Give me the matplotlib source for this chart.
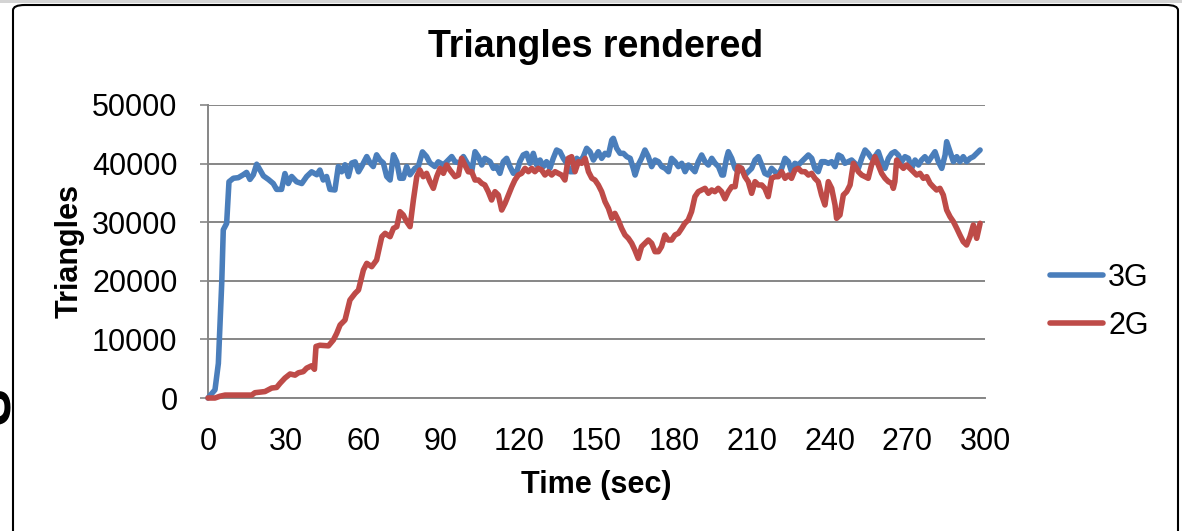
import matplotlib
matplotlib.use("Agg")
import matplotlib.pyplot as plt
from matplotlib.patches import FancyBboxPatch, Rectangle

plt.rcParams['font.family'] = ['Liberation Sans', 'DejaVu Sans']

# 3G series (time in sec, triangles)
t_3g = [0.0, 2.7, 4.0, 5.3, 5.9, 7.2, 8.1, 9.8, 11.7, 13.6, 14.9, 16.2, 17.5, 18.8, 20.1,
        21.4, 23.3, 25.2, 26.5, 28.4, 29.7, 31.0, 32.3, 34.2, 36.2, 38.1, 40.0, 42.0, 43.2,
        44.5, 45.8, 47.1, 49.0, 50.3, 51.6, 52.9, 54.2, 55.5, 56.8, 58.1, 59.3, 61.3, 62.6,
        63.8, 65.1, 66.4, 67.7, 69.0, 70.3, 71.6, 72.9, 74.1, 75.4, 76.7, 78.0, 79.9, 81.2,
        82.8, 84.4, 85.7, 87.6, 88.9, 90.9, 92.1, 94.1, 95.4, 97.3, 98.6, 100.5, 101.8,
        103.1, 104.4, 105.7, 106.9, 108.9, 110.2, 111.4, 112.7, 114.0, 115.3, 116.6, 117.9,
        119.2, 120.4, 121.7, 123.0, 124.3, 125.6, 126.9, 128.2, 129.5, 130.7, 132.0, 133.3,
        134.6, 135.9, 137.2, 138.5, 139.8, 141.1, 142.4, 143.6, 144.9, 146.2, 147.5, 148.8,
        150.7, 152.0, 153.3, 154.6, 155.9, 156.5, 157.8, 159.1, 160.4, 161.7, 163.0, 164.2,
        164.9, 166.1, 167.4, 168.7, 170.0, 171.3, 172.6, 173.9, 175.2, 176.5, 177.8, 179.0,
        180.3, 181.6, 182.9, 184.2, 185.5, 186.8, 188.0, 189.3, 190.6, 191.9, 193.2, 194.5,
        195.8, 197.1, 198.4, 199.0, 200.2, 200.9, 202.2, 203.5, 204.7, 206.0, 207.3, 208.6,
        209.9, 211.2, 212.5, 213.8, 215.0, 216.3, 217.6, 218.9, 220.2, 221.5, 222.8, 224.1,
        225.3, 226.6, 227.9, 229.2, 230.5, 231.8, 233.1, 234.3, 235.6, 236.9, 238.2, 239.5,
        240.8, 242.1, 243.4, 244.6, 245.9, 247.2, 248.5, 249.8, 251.1, 252.4, 253.7, 254.9,
        256.2, 257.5, 258.8, 260.1, 261.4, 262.7, 264.0, 265.2, 266.5, 267.8, 269.1, 270.4,
        271.7, 273.0, 274.3, 275.5, 276.8, 278.1, 279.4, 280.7, 282.0, 283.3, 284.6, 285.2,
        286.5, 287.8, 289.1, 290.3, 291.6, 292.9, 294.2, 295.5, 296.8, 298.1]
v_3g = [0, 1400, 5900, 19600, 28700, 29800, 36900, 37500, 37600, 38100, 38500, 37300, 38100,
        39900, 38900, 37900, 37300, 36600, 35600, 35600, 38300, 36600, 37800, 36900, 36600,
        37800, 38600, 38100, 38900, 37200, 37800, 35600, 35500, 39500, 38600, 39800, 37800,
        40100, 40300, 38600, 39500, 41200, 40100, 39500, 41500, 40600, 40100, 37800, 37200,
        41500, 40300, 37500, 37500, 39500, 38100, 39200, 39500, 42000, 41200, 40100, 39500,
        40300, 39800, 40300, 41200, 40300, 40100, 41200, 39760, 38620, 42030, 41180, 39760,
        40900, 40330, 39190, 39480, 38340, 40330, 40900, 39480, 38340, 38620, 40330, 41470,
        41750, 40050, 41750, 39760, 40610, 39480, 40330, 39190, 40900, 42320, 42030, 40900,
        40050, 38620, 38620, 40900, 40330, 41180, 42610, 42030, 40610, 42030, 40900, 41750,
        41470, 44030, 44310, 42610, 41750, 41750, 41180, 40900, 39190, 38050, 39760, 40900,
        42320, 41180, 39480, 40610, 40330, 39480, 39190, 38620, 40900, 40330, 39480, 40050,
        38620, 39760, 39190, 38620, 40330, 41470, 40330, 39760, 40900, 40050, 39480, 38050,
        38050, 40900, 42030, 40900, 39190, 38620, 39190, 38050, 38620, 39190, 40610, 41180,
        39760, 38340, 38050, 39190, 38620, 38050, 39190, 40900, 40330, 38620, 40050, 39760,
        40330, 40900, 41470, 40900, 39190, 38620, 40330, 40330, 40050, 40330, 39480, 41470,
        41180, 40050, 40330, 40610, 40050, 39190, 40900, 42320, 41750, 40900, 41180, 42030,
        40330, 39190, 40900, 41750, 42030, 41470, 40330, 41180, 40900, 39190, 40610, 39760,
        40610, 41180, 40330, 41180, 42030, 40330, 39190, 41470, 43740, 42030, 40330, 41180,
        40330, 41180, 40330, 40900, 41180, 41750, 42320]

# 2G series
t_2g = [0.0, 2.7, 4.6, 6.6, 11.7, 16.9, 18.1, 22.0, 24.6, 26.5, 27.8, 29.7, 31.7, 33.6,
        34.9, 36.8, 38.1, 40.0, 41.1, 41.7, 43.2, 46.5, 48.4, 49.7, 51.0, 52.9, 54.8, 56.8,
        58.1, 60.0, 61.3, 63.2, 65.1, 67.1, 68.4, 70.3, 71.6, 72.9, 74.1, 75.4, 76.7, 78.0,
        79.3, 80.6, 81.8, 83.1, 84.4, 85.7, 87.0, 88.3, 89.6, 90.9, 92.1, 93.4, 95.4, 96.7,
        97.9, 99.2, 100.5, 101.8, 103.1, 104.4, 105.7, 106.9, 108.2, 109.5, 110.8, 112.1,
        113.4, 114.7, 116.0, 117.3, 118.5, 119.8, 121.1, 122.4, 123.7, 125.0, 126.2, 127.5,
        128.8, 130.1, 131.4, 132.7, 134.0, 135.2, 136.5, 137.8, 139.1, 140.4, 141.7, 143.0,
        144.3, 145.6, 146.9, 148.2, 149.4, 150.7, 152.0, 153.3, 154.6, 155.9, 157.1, 158.4,
        159.7, 161.0, 162.3, 163.6, 164.8, 166.1, 167.4, 168.7, 170.0, 171.3, 172.6, 173.9,
        175.1, 176.4, 177.7, 179.0, 180.3, 181.6, 182.9, 184.1, 185.4, 186.7, 188.0, 189.3,
        190.6, 191.9, 193.2, 194.5, 195.7, 197.0, 198.3, 199.6, 200.9, 202.2, 203.5, 204.7,
        206.0, 207.3, 208.6, 209.9, 211.2, 212.5, 213.8, 215.0, 216.3, 217.6, 218.9, 220.2,
        221.5, 222.8, 224.1, 225.3, 226.6, 227.9, 229.2, 230.5, 231.8, 233.1, 234.3, 235.6,
        236.9, 238.2, 239.5, 240.8, 242.1, 242.7, 244.0, 245.3, 246.6, 247.9, 249.2, 250.4,
        251.1, 252.4, 253.7, 254.9, 256.2, 257.5, 258.8, 260.1, 261.4, 262.7, 264.0, 264.6,
        265.2, 265.9, 267.2, 268.5, 269.7, 271.0, 272.3, 273.6, 274.9, 276.2, 277.5, 278.8,
        280.0, 281.3, 282.6, 283.9, 285.2, 286.5, 287.8, 289.1, 290.3, 291.6, 292.9, 294.2,
        295.5, 296.8, 298.1]
v_2g = [0, 0, 300, 500, 500, 500, 900, 1100, 1700, 1800, 2500, 3400, 4100, 3900, 4300, 4500,
        5100, 5500, 4900, 8800, 9000, 8900, 9900, 11040, 12460, 13310, 16720, 17860, 18430,
        21840, 22980, 22410, 23550, 27530, 28100, 27530, 28960, 29240, 31800, 31230, 30090,
        29240, 33790, 37770, 38910, 37770, 38340, 36920, 35780, 37770, 39190, 38340, 39760,
        38910, 37770, 38050, 40900, 39760, 38600, 38620, 37200, 37200, 36630, 36350, 35210,
        33790, 35210, 34640, 32080, 33220, 34640, 36060, 37200, 38050, 38340, 39190, 38620,
        39190, 38620, 39190, 38910, 38050, 38620, 38050, 38620, 38340, 38050, 37200, 40900,
        41180, 38620, 40330, 40050, 40900, 38620, 37500, 37200, 36350, 35210, 33500, 32370,
        30660, 31510, 30370, 28950, 27820, 27250, 26400, 25260, 23830, 25830, 26400, 26960,
        26400, 24970, 24970, 25830, 27820, 26960, 26960, 27820, 28100, 28950, 29810, 30370,
        31800, 34360, 35210, 35500, 35780, 34930, 35500, 35210, 35780, 35210, 34000, 35210,
        36060, 36060, 39480, 39190, 37770, 36920, 34930, 36920, 36350, 36350, 35780, 34360,
        37490, 37770, 37770, 38620, 37490, 38050, 37490, 38910, 39190, 38620, 38620, 38050,
        38340, 37490, 36920, 34640, 32940, 36920, 35780, 32940, 30660, 31230, 34640, 35210,
        36350, 40050, 39190, 38620, 38050, 37770, 37490, 39760, 41180, 39760, 38340, 37490,
        36920, 36630, 35780, 36920, 40610, 39760, 39190, 39760, 39190, 38620, 38050, 38340,
        37490, 37770, 36630, 36060, 35500, 35780, 34640, 32080, 30940, 30090, 28950, 27820,
        26680, 26110, 27530, 29520, 27250, 29810]

x_ticks = [0, 30, 60, 90, 120, 150, 180, 210, 240, 270, 300]
y_ticks = [0, 10000, 20000, 30000, 40000, 50000]

W, H = 1182, 531
fig = plt.figure(figsize=(W / 100, H / 100), dpi=100)

# chart frame and page bits around it (behind the axes)
fig.patches.append(Rectangle((0, 1 - 3 / H), 1, 3 / H, transform=fig.transFigure,
                             facecolor='#d4d4d4', edgecolor='none', zorder=-10))
fig.patches.append(FancyBboxPatch((13 / W, -0.1), 1165 / W, 1 - 5 / H + 0.1,
                                  boxstyle='round,pad=0,rounding_size=0.01',
                                  transform=fig.transFigure, facecolor='white',
                                  edgecolor='black', linewidth=1.5, zorder=-10))
fig.text(-4 / W, 1 - 406 / H, 'S', rotation=90, fontsize=40, fontweight='bold',
         ha='center', va='center')

ax = fig.add_axes([208 / W, 1 - 398 / H, 777 / W, 293 / H])
ax.set_facecolor('none')

ax.plot(t_3g, v_3g, color='#4A7EBB', lw=4.0, label='3G', solid_joinstyle='round',
        solid_capstyle='round', clip_on=False, zorder=3)
ax.plot(t_2g, v_2g, color='#BE4B48', lw=4.0, label='2G', solid_joinstyle='round',
        solid_capstyle='round', clip_on=False, zorder=3)

ax.set_xlim(0, 300)
ax.set_ylim(0, 50000)
ax.set_xticks(x_ticks)
ax.set_xticklabels([str(v) for v in x_ticks])
ax.set_yticks(y_ticks)
ax.set_yticklabels([str(v) for v in y_ticks])
ax.tick_params(axis='x', length=0, pad=21, labelsize=22)
ax.tick_params(axis='y', length=6, width=1.2, color='#868686', direction='out', pad=16,
               labelsize=22)
ax.grid(axis='y', color='#868686', lw=1.4, zorder=1)
for s in ['top', 'right']:
    ax.spines[s].set_visible(False)
for s in ['left', 'bottom']:
    ax.spines[s].set_color('#868686')
    ax.spines[s].set_linewidth(1.4)

ax.set_xlabel('Time (sec)', fontsize=22, fontweight='bold', labelpad=9)
ax.set_ylabel('Triangles', fontsize=22, fontweight='bold', labelpad=5)
fig.text(596 / W, 1 - 47 / H, 'Triangles rendered', fontsize=27, fontweight='bold',
         ha='center', va='center')

ax.legend(loc='center left', bbox_to_anchor=(1050 / W, 1 - 302 / H),
          bbox_transform=fig.transFigure, frameon=False, fontsize=22,
          handlelength=1.75, handletextpad=0.15, labelspacing=0.6,
          borderpad=0, borderaxespad=0)

fig.savefig('out.png', dpi=100)
